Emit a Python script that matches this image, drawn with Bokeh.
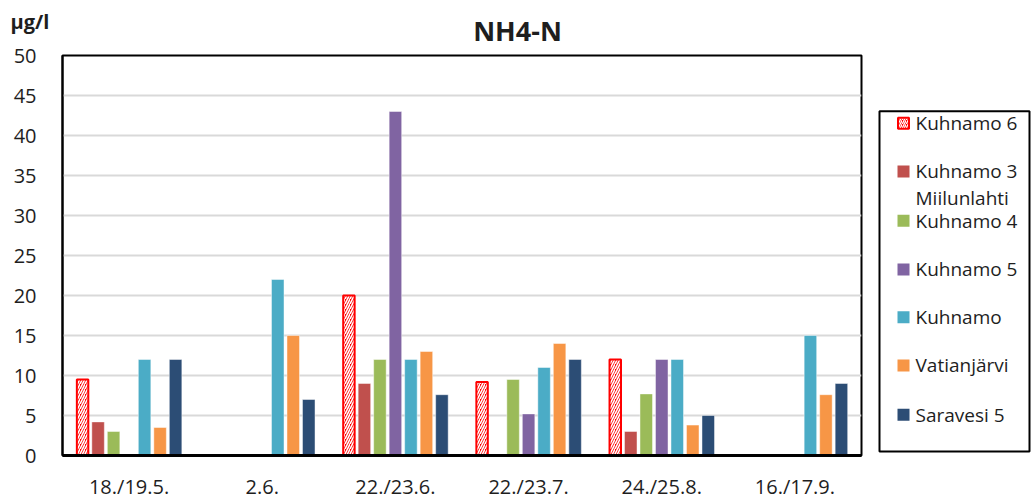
import numpy as np
from bokeh.plotting import figure
from bokeh.models import FactorRange, Range1d, ColumnDataSource, FixedTicker
from bokeh.transform import dodge
from bokeh.layouts import row, column
from bokeh.embed import file_html
from bokeh.resources import INLINE
from bokeh.core.properties import value

# ---- data ----
dates = ["18./19.5.", "2.6.", "22./23.6.", "22./23.7.", "24./25.8.", "16./17.9."]
kuhnamo6 = [9.5, None, 20.0, 9.2, 12.0, None]
kuhnamo3 = [4.2, None, 9.0, None, 3.0, None]
kuhnamo4 = [3.0, None, 12.0, 9.5, 7.7, None]
kuhnamo5 = [None, None, 43.0, 5.2, 12.0, None]
kuhnamo = [12.0, 22.0, 12.0, 11.0, 12.0, 15.0]
vatianjarvi = [3.5, 15.0, 13.0, 14.0, 3.8, 7.6]
saravesi5 = [12.0, 7.0, 7.6, 12.0, 5.0, 9.0]
series_names = ["Kuhnamo 6", "Kuhnamo 3 Miilunlahti", "Kuhnamo 4", "Kuhnamo 5",
                "Kuhnamo", "Vatianjärvi", "Saravesi 5"]
series = [kuhnamo6, kuhnamo3, kuhnamo4, kuhnamo5, kuhnamo, vatianjarvi, saravesi5]
colors = ["#FF0000", "#C0504D", "#9BBB59", "#8064A2", "#4BACC6", "#F79646", "#2C4D75"]
y_ticks = [0, 5, 10, 15, 20, 25, 30, 35, 40, 45, 50]
title_text = "NH4-N"
unit_text = "µg/l"

FONT = "Open Sans"
TXT = "#1e1e1e"

# page layout (pixels)
W, H = 1031, 502
HDR = 44                       # header strip height
FL, FR, FT, FB = 62, 861, 55, 457
MH = H - HDR                   # height of the chart row

# ---- header (title and unit) ----
hd = figure(x_range=Range1d(0, W), y_range=Range1d(HDR, 0), title=None,
            width=W, height=HDR, output_backend="svg", toolbar_location=None,
            min_border=0, x_axis_location=None, y_axis_location=None)
hd.outline_line_color = None
hd.grid.visible = False
hd.background_fill_color = "white"
hd.border_fill_color = "white"
hd.text(x=[517], y=[29.5], text=[title_text], text_align="center",
        text_baseline="middle", text_font=value(FONT), text_font_style="bold",
        text_font_size="27px", text_color=TXT)
hd.text(x=[10], y=[21], text=[unit_text], text_align="left",
        text_baseline="middle", text_font=value(FONT), text_font_style="bold",
        text_font_size="20px", text_color=TXT)

# ---- main chart ----
data = {"date": dates}
for i, s in enumerate(series):
    data[f"s{i}"] = np.array([np.nan if v is None else v for v in s], dtype=float)
source = ColumnDataSource(data)

p = figure(x_range=FactorRange(factors=dates, range_padding=0),
           y_range=Range1d(0, 50), title=None,
           width=870, height=MH,
           output_backend="svg", toolbar_location=None,
           min_border_left=FL, min_border_right=870 - FR,
           min_border_top=FT - HDR, min_border_bottom=H - FB)
p.background_fill_color = "white"
p.border_fill_color = "white"
p.outline_line_color = "black"
p.outline_line_width = 2

step = 0.1164
bw = 0.094
for i in range(len(series)):
    off = (i - 3) * step
    if i == 0:
        p.vbar(x=dodge("date", off, range=p.x_range), top=f"s{i}", width=bw - 0.008,
               source=source, fill_color=colors[i], line_color=colors[i], line_width=2,
               hatch_pattern="/", hatch_color="white", hatch_scale=5, hatch_weight=1.6)
    else:
        p.vbar(x=dodge("date", off, range=p.x_range), top=f"s{i}", width=bw,
               source=source, fill_color=colors[i], line_color="white",
               line_alpha=0.45, line_width=1)

p.yaxis.ticker = FixedTicker(ticks=y_ticks)
p.xgrid.grid_line_color = None
p.ygrid.grid_line_color = "#D9D9D9"
p.ygrid.grid_line_width = 2
for ax in (p.xaxis, p.yaxis):
    ax.major_tick_line_color = None
    ax.minor_tick_line_color = None
    ax.axis_line_color = "black"
    ax.major_label_text_font = FONT
    ax.major_label_text_font_size = "20px"
    ax.major_label_text_color = TXT
p.xaxis.axis_line_width = 3
p.yaxis.axis_line_width = 2
p.xaxis.major_label_standoff = 11
p.yaxis.major_label_standoff = 20

# ---- legend (separate panel, page pixel coordinates) ----
lg = figure(x_range=Range1d(870, W), y_range=Range1d(FB, FT), title=None,
            width=W - 870, height=MH, output_backend="svg", toolbar_location=None,
            min_border_left=0, min_border_right=0,
            min_border_top=FT - HDR, min_border_bottom=H - FB,
            x_axis_location=None, y_axis_location=None)
lg.outline_line_color = None
lg.grid.visible = False
lg.background_fill_color = "white"
lg.border_fill_color = "white"

lg.quad(left=879, right=1029, top=111, bottom=453, fill_color=None,
        line_color="black", line_width=2)
leg_y = [123, 171.5, 221, 270, 318, 366.5, 416]
leg_lines = ["Kuhnamo 6", "Kuhnamo 3", "Kuhnamo 4", "Kuhnamo 5", "Kuhnamo",
             "Vatianjärvi", "Saravesi 5"]
lg.rect(x=903, y=leg_y[0], width=11, height=11, fill_color=colors[0],
        line_color=colors[0], line_width=2, hatch_pattern="/", hatch_color="white",
        hatch_scale=4, hatch_weight=1.3)
lg.rect(x=[903] * 6, y=leg_y[1:], width=12, height=12, fill_color=colors[1:],
        line_color=None)
lg.text(x=[915] * 8, y=leg_y + [198],
        text=leg_lines + ["Miilunlahti"],
        text_baseline="middle", text_align="left",
        text_font=value(FONT), text_font_size="19px", text_color=TXT)

layout = column(hd, row(p, lg))
open("out.html", "w").write(file_html(layout, INLINE))
